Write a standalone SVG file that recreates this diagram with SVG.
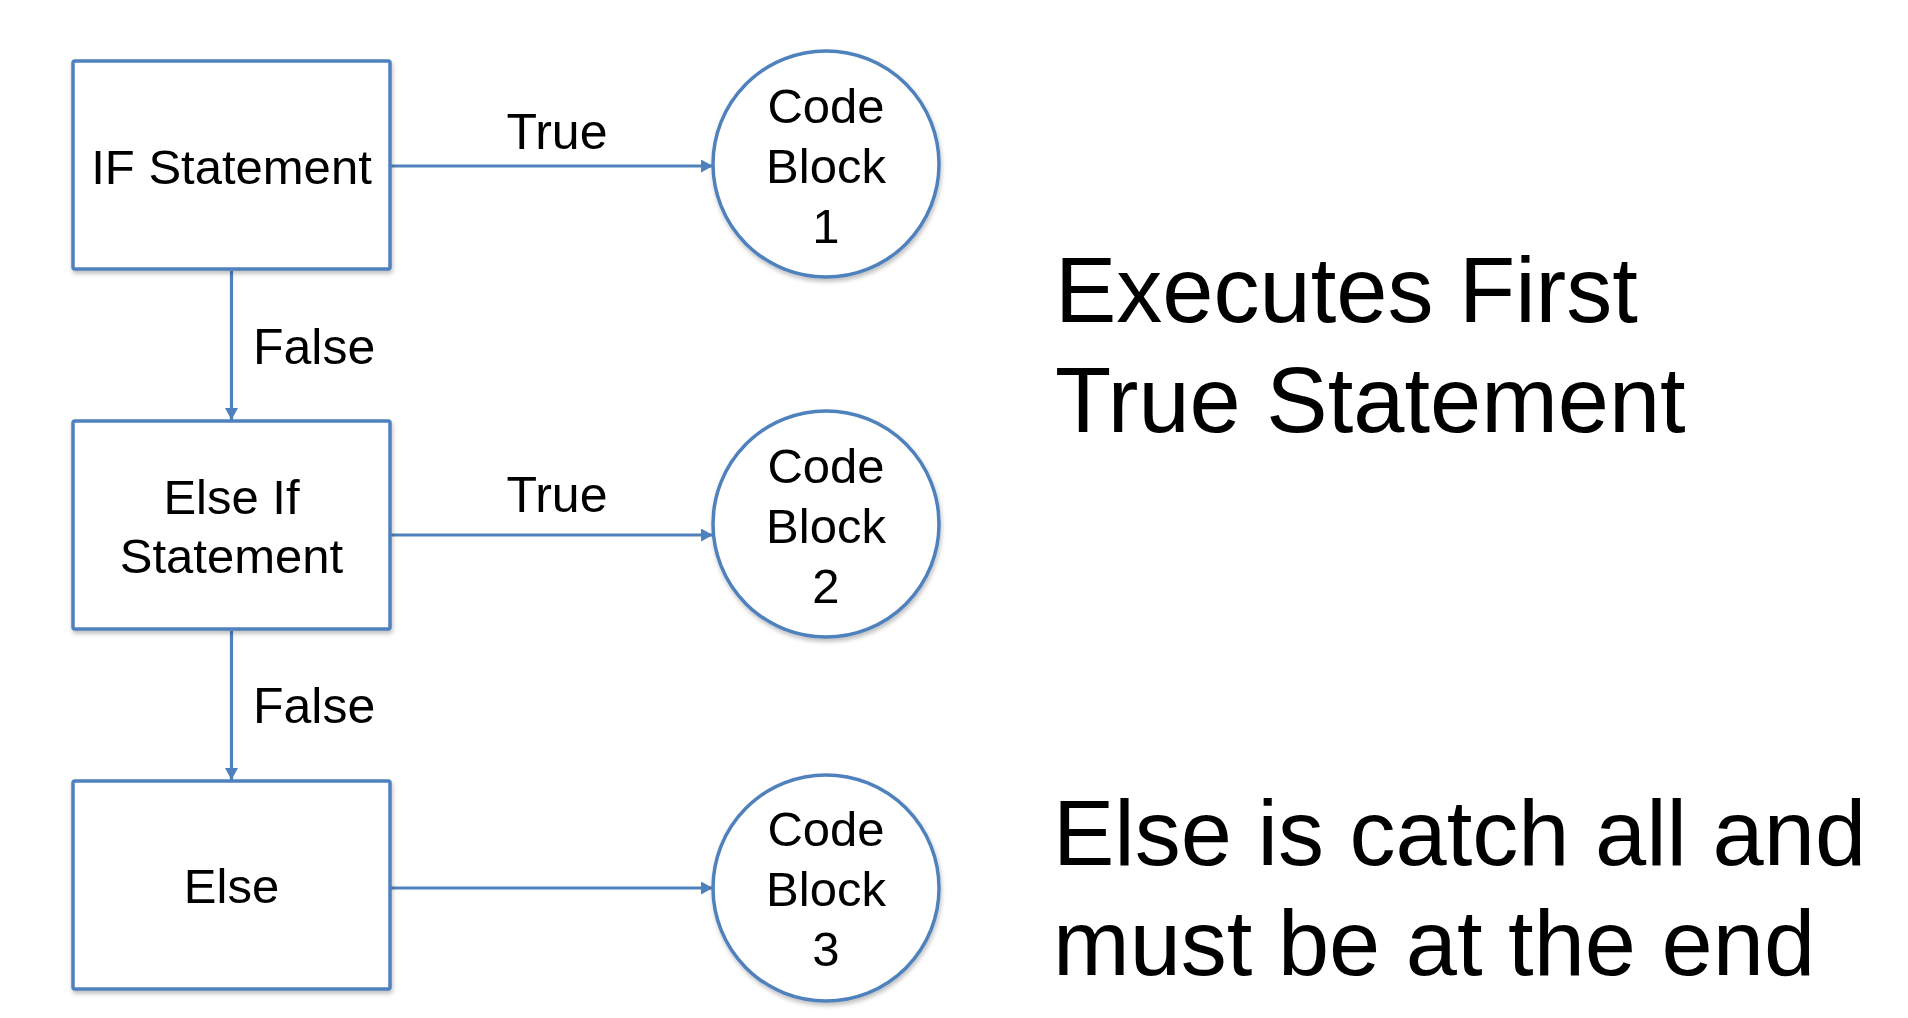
<svg xmlns="http://www.w3.org/2000/svg" width="1908" height="1018" viewBox="0 0 1908 1018">
<style>
.node{fill:#fff;stroke:#4F81BD;stroke-width:3.5;filter:url(#sh)}
.conn{stroke:#4F81BD;stroke-width:3.2;fill:none;marker-end:url(#arr)}
text{font-family:"Liberation Sans",Arial,Helvetica,sans-serif;fill:#000}
.lbl{font-size:49px;text-anchor:middle}
.edge{font-size:50px}
.big{font-size:92px}
</style>
<defs>
<filter id="sh" x="-10%" y="-10%" width="130%" height="130%">
<feDropShadow dx="1" dy="3" stdDeviation="2" flood-color="#000" flood-opacity="0.25"/>
</filter>
<marker id="arr" markerUnits="userSpaceOnUse" markerWidth="14" markerHeight="14" refX="12" refY="6.5" orient="auto">
<path d="M0,0 L12,6.5 L0,13 z" fill="#4F81BD"/>
</marker>
</defs>
<rect width="1908" height="1018" fill="#fff"/>
<g id="connectors">
<line class="conn" x1="391" y1="166" x2="713" y2="166"/>
<line class="conn" x1="391" y1="535" x2="713" y2="535"/>
<line class="conn" x1="391" y1="888" x2="713" y2="888"/>
<line class="conn" x1="231.5" y1="271" x2="231.5" y2="420"/>
<line class="conn" x1="231.5" y1="631" x2="231.5" y2="780"/>
<text class="edge" x="557" y="149" text-anchor="middle">True</text>
<text class="edge" x="557" y="512" text-anchor="middle">True</text>
<text class="edge" x="253" y="364">False</text>
<text class="edge" x="253" y="723">False</text>
</g>
<g id="if">
<rect class="node" x="73" y="61" width="317" height="208" rx="2"/>
<text class="lbl" x="231.5" y="184">IF Statement</text>
</g>
<g id="elseif">
<rect class="node" x="73" y="421" width="317" height="208" rx="2"/>
<text class="lbl" x="231.5" y="514">Else If</text>
<text class="lbl" x="231.5" y="573">Statement</text>
</g>
<g id="else">
<rect class="node" x="73" y="781" width="317" height="208" rx="2"/>
<text class="lbl" x="231.5" y="903">Else</text>
</g>
<g id="block1">
<circle class="node" cx="826" cy="164" r="113"/>
<text class="lbl" x="826" y="123">Code</text>
<text class="lbl" x="826" y="183">Block</text>
<text class="lbl" x="826" y="243">1</text>
</g>
<g id="block2">
<circle class="node" cx="826" cy="524" r="113"/>
<text class="lbl" x="826" y="483">Code</text>
<text class="lbl" x="826" y="543">Block</text>
<text class="lbl" x="826" y="603">2</text>
</g>
<g id="block3">
<circle class="node" cx="826" cy="888" r="113"/>
<text class="lbl" x="826" y="846">Code</text>
<text class="lbl" x="826" y="906">Block</text>
<text class="lbl" x="826" y="966">3</text>
</g>
<g id="notes">
<text class="big" x="1055" y="322">Executes First</text>
<text class="big" x="1055" y="432">True Statement</text>
<text class="big" x="1053" y="865">Else is catch all and</text>
<text class="big" x="1053" y="975">must be at the end</text>
</g>
</svg>
